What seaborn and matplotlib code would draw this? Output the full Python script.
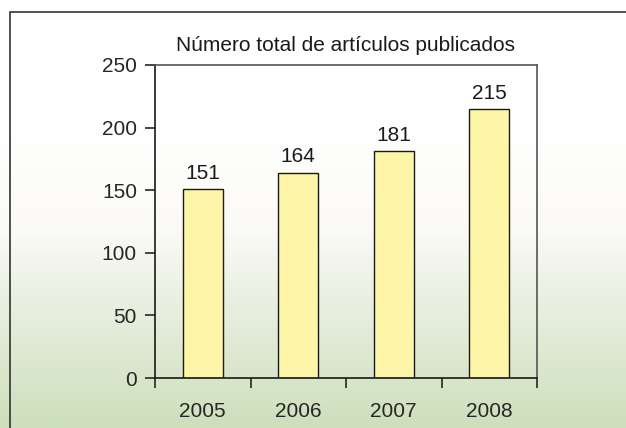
import numpy as np
import pandas as pd
import matplotlib.pyplot as plt
import seaborn as sns
from matplotlib.colors import LinearSegmentedColormap
from matplotlib.patches import Rectangle

YEARS = ["2005", "2006", "2007", "2008"]
ARTICLES = [151, 164, 181, 215]
TITLE = "Número total de artículos publicados"

W, H = 626, 428  # output size in pixels
FS = 15  # font size used everywhere


def addBackground(fig):
    # White at the top, light green towards the bottom
    bg = fig.add_axes([0, 0, 1, 1], zorder=-10)
    rows = np.linspace(0, 1, H)
    start = 130 / H  # gradient starts about here
    grad = np.clip((rows - start) / (1 - start), 0, 1)
    cmap = LinearSegmentedColormap.from_list("bg", ["#ffffff", "#fbfaf6", "#e3ecd9", "#cddfbc"])
    bg.imshow(grad[:, None], aspect="auto", cmap=cmap, vmin=0, vmax=1,
              extent=[0, 1, 0, 1], origin="upper")
    bg.set_xlim(0, 1)
    bg.set_ylim(0, 1)
    bg.axis("off")
    # Outer frame, runs off the right and bottom edge
    fig.patches.append(Rectangle((10 / W, -0.1), 1.0, 1 - 12 / H + 0.1,
                                 transform=fig.transFigure, fill=False,
                                 edgecolor="#333333", linewidth=1.2, zorder=5))


def articlesBarGraph():
    df = pd.DataFrame({"Year": YEARS, "Articles": ARTICLES})

    sns.set_style("ticks")
    plt.rcParams['font.family'] = ['Liberation Sans', 'DejaVu Sans']

    fig = plt.figure(figsize=(W / 100, H / 100), dpi=100)
    addBackground(fig)
    ax = fig.add_axes([155 / W, 1 - 378 / H, (537 - 155) / W, (378 - 65) / H])
    ax.set_facecolor("none")

    sns.barplot(data=df, x="Year", y="Articles", ax=ax, color="#fdf6a8",
                edgecolor="#1a1a1a", linewidth=1.0, width=0.42, saturation=1)

    # Value labels above the bars
    for i, v in enumerate(ARTICLES):
        ax.text(i, v + 5, str(v), ha="center", va="bottom", fontsize=FS, color="#1a1a1a")

    ax.set_ylim(0, 250)
    ax.set_yticks(range(0, 251, 50))
    ax.set_xlim(-0.5, len(YEARS) - 0.5)
    # Ticks on the x axis sit between the categories
    ax.set_xticks(np.arange(-0.5, len(YEARS), 1), minor=False)
    ax.set_xticklabels([])
    ax.set_xticks(range(len(YEARS)), minor=True)
    ax.set_xticklabels(YEARS, minor=True)
    ax.tick_params(axis="x", which="minor", length=0, pad=17, labelsize=FS)
    ax.tick_params(axis="x", which="major", length=7, width=1.2, direction="out")
    ax.tick_params(axis="y", length=7, width=1.2, direction="out", pad=6, labelsize=FS)

    for side in ["left", "bottom"]:
        ax.spines[side].set_color("#1a1a1a")
        ax.spines[side].set_linewidth(1.2)
    for side in ["top", "right"]:
        ax.spines[side].set_visible(True)
        ax.spines[side].set_color("#555555")
        ax.spines[side].set_linewidth(1.2)

    ax.set_xlabel("")
    ax.set_ylabel("")
    ax.set_title(TITLE, fontsize=FS, pad=10, color="#1a1a1a")

    plt.savefig("out.png", dpi=100)


if __name__ == "__main__":
    articlesBarGraph()
